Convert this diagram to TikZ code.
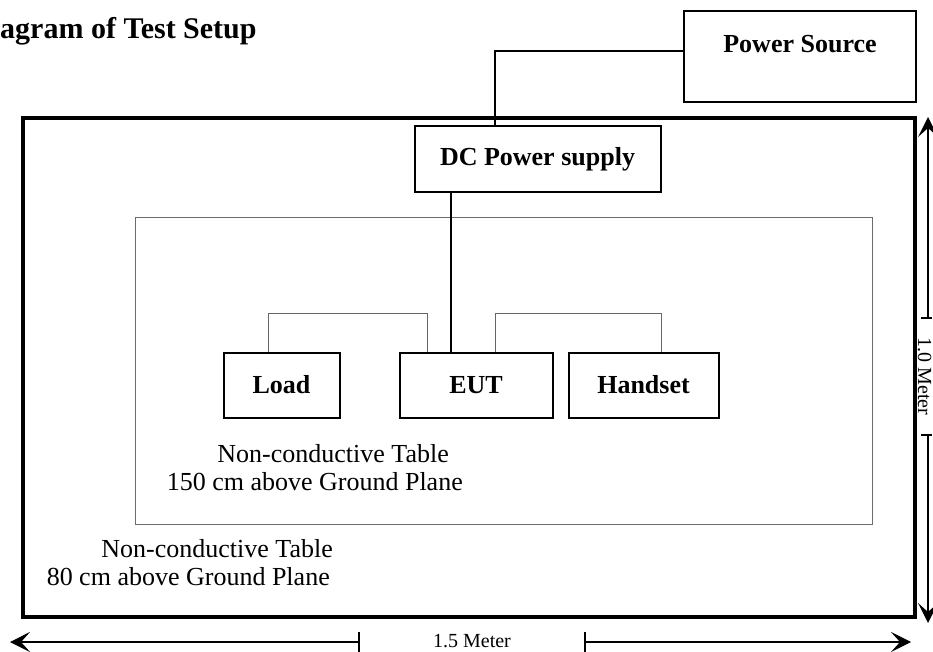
\documentclass[tikz,border=0pt]{standalone}
\usepackage{fontspec}
\setmainfont{Liberation Serif}
\usetikzlibrary{arrows.meta,positioning}

\begin{document}
\begin{tikzpicture}[x=1pt, y=-1pt, font=\fontsize{26}{28}\selectfont, unit/.style={rectangle, draw, line width=2pt, inner sep=0pt, font=\fontsize{26}{28}\selectfont\bfseries}, tablebox/.style={draw=gray!85!black, line width=0.9pt}, note/.style={align=right, inner sep=0pt, anchor=north east}, feed/.style={line width=1.4pt}, lead/.style={draw=gray!80!black, line width=1pt}, tick/.style={line width=1.2pt}, dimarrow/.style={-{Stealth[length=20pt, width=20pt, inset=9pt]}, line width=1.2pt}, dimlabel/.style={inner sep=0pt, font=\fontsize{20}{22}\selectfont}]
\useasboundingbox (0,0) rectangle (933,652);
\node[anchor=base west, inner sep=0pt, font=\fontsize{30}{34}\selectfont\bfseries] (title) at (0,39) {agram of Test Setup};
\draw[line width=4pt] (23,118) rectangle (915,617);
\draw[tablebox] (135,217) rectangle (872,524);
\node[unit, minimum width=232pt, minimum height=91pt, text height=20pt, text depth=28pt] (src) at (800,56.5) {Power Source};
\node[unit, minimum width=246pt, minimum height=66pt] (dcps) at (537.5,159.5) {DC Power supply};
\node[unit, minimum width=116pt, minimum height=65pt] (load) at (281.5,385) {Load};
\node[unit, minimum width=153pt, minimum height=65pt] (eut) at (476,385) {EUT};
\node[unit, minimum width=150pt, minimum height=65pt] (hset) at (643.5,385) {Handset};
\draw[feed] ([yshift=5.5pt]src.west) -| ([xshift=-42.5pt]dcps.north);
\draw[feed, line width=1.8pt] ([xshift=-25pt]eut.north) -- ([xshift=-25pt]eut.north |- dcps.south);
\draw[lead] ([xshift=-13.5pt]load.north) -- ++(0,-38) -| ([xshift=-49pt]eut.north);
\draw[lead] ([xshift=19pt]eut.north) -- ++(0,-38) -| ([xshift=17.5pt]hset.north);
\node[note] (hightable) at (463,444) {Non-conductive Table\rule{14pt}{0pt}\\150 cm above Ground Plane};
\node[note] (lowtable) at (333,539) {Non-conductive Table\\80 cm above Ground Plane\rule{3pt}{0pt}};
\coordinate (wl) at (10,642); \coordinate (wa) at (359,642); \coordinate (wb) at (585,642); \coordinate (wr) at (911,642);
\coordinate (ht) at (928,117); \coordinate (ha) at (928,318); \coordinate (hb) at (928,435); \coordinate (hbot) at (928,623);
\draw[dimarrow] (wa) -- (wl); \draw[dimarrow] (wb) -- (wr);
\draw[tick] ([yshift=10pt]wa) -- ([yshift=-10pt]wa); \draw[tick] ([yshift=10pt]wb) -- ([yshift=-10pt]wb);
\draw[dimarrow] (ha) -- (ht); \draw[dimarrow] (hb) -- (hbot);
\draw[tick] ([xshift=-7pt]ha) -- ([xshift=4pt]ha); \draw[tick] ([xshift=-7pt]hb) -- ([xshift=4pt]hb);
\node[dimlabel, anchor=base] (wlabel) at (472,647) {1.5 Meter};
\node[dimlabel, anchor=base, rotate=-90] (hlabel) at (918,376.5) {1.0 Meter};
\end{tikzpicture}
\end{document}
